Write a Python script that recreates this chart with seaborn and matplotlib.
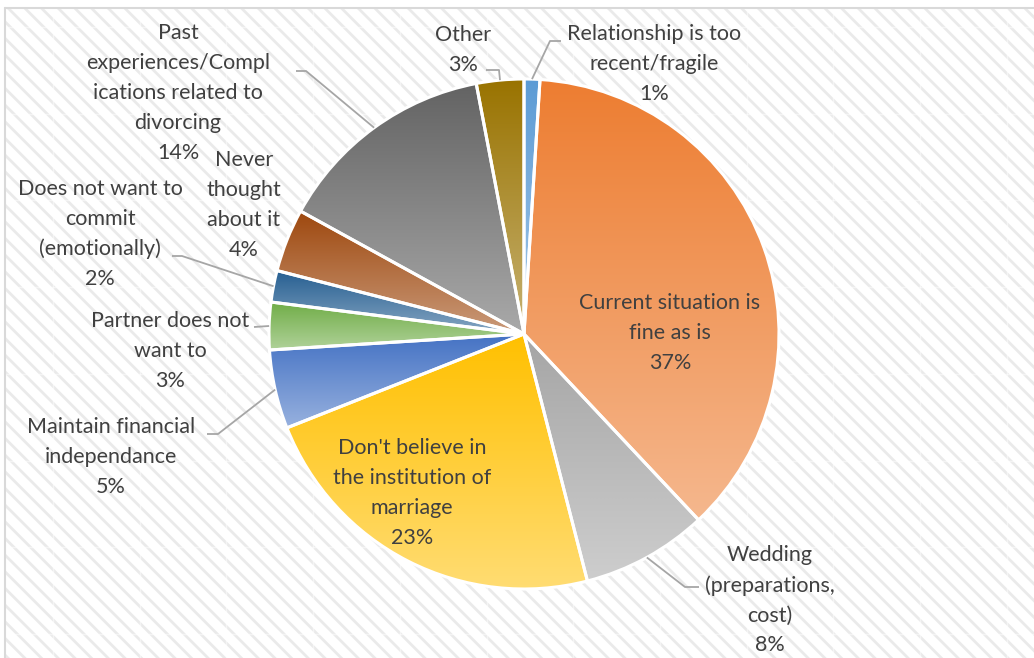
import numpy as np
import matplotlib
matplotlib.use("Agg")
import matplotlib.pyplot as plt
from matplotlib.colors import to_rgb
from matplotlib.patches import Rectangle
import seaborn as sns

# ---- data -------------------------------------------------------------
reasons = [
    "Relationship is too\nrecent/fragile",
    "Current situation is\nfine as is",
    "Wedding\n(preparations,\ncost)",
    "Don't believe in\nthe institution of\nmarriage",
    "Maintain financial\nindependance",
    "Partner does not\nwant to",
    "Does not want to\ncommit\n(emotionally)",
    "Never\nthought\nabout it",
    "Past\nexperiences/Compl\nications related to\ndivorcing",
    "Other",
]
shares = [1, 37, 8, 23, 5, 3, 2, 4, 14, 3]
slice_colors = ["#5B9BD5", "#ED7D31", "#A5A5A5", "#FFC000", "#4472C4",
                "#70AD47", "#255E91", "#9E480E", "#636363", "#997300"]

# ---- layout (pixel space, y measured from the top) ---------------------
W, H = 1034, 658
CX, CY, R = 524, 334, 255
label_pos = [(654, 64), (670, 333), (770, 600), (412, 493), (111, 457),
             (170, 351), (100, 234), (244, 205), (178, 93), (463, 50)]
# leader elbows: list of points after the wedge anchor, or None
leaders = [[(550, 41), (561, 41)], None, [(685, 587), (699, 587)], None,
           [(218, 434), (207, 434)], [(254, 327)], [(182, 256), (172, 256)],
           None, [(306, 71), (296, 71)], [(499, 70), (486, 70)]]

sns.set_theme(style="white")
plt.rcParams["font.family"] = ["Lato", "DejaVu Sans"]
plt.rcParams["hatch.linewidth"] = 2.0

palette = sns.color_palette(slice_colors)


def px(x, y):
    return x, H - y


fig = plt.figure(figsize=(W / 100, H / 100), dpi=100)
ax = fig.add_axes([0, 0, 1, 1])
ax.set_axis_off()

# striped chart-area background
ax.add_patch(Rectangle(px(5, H), W, H - 8, facecolor="white",
                       edgecolor="#EAEAEA", hatch="\\\\", linewidth=0,
                       zorder=0))
for k in range(13):
    gx = 53 + 86.7 * k
    ax.plot([gx, gx], [0, H - 8], color="white", lw=1.0, alpha=0.5, zorder=0.5)
for k in range(8):
    gy = 27 + 86.7 * k
    ax.plot([5, W], [H - gy, H - gy], color="white", lw=1.0, alpha=0.5, zorder=0.5)
ax.plot([5, W], [H - 8, H - 8], color="#D9D9D9", lw=1.5, zorder=0.6)
ax.plot([5, 5], [0, H - 8], color="#D9D9D9", lw=1.5, zorder=0.6)

wedges, _ = ax.pie(shares, colors=palette, startangle=90, counterclock=False,
                   center=px(CX, CY), radius=R,
                   wedgeprops=dict(edgecolor="white", linewidth=2.2))

# vertical gradient fill for each slice: base colour at top, lighter below
for w, col in zip(wedges, palette):
    base = np.array(to_rgb(col))
    light = base + (1 - base) * 0.45
    t = np.linspace(0, 1, 256)[:, None]
    grad = (base[None, :] * (1 - t) + light[None, :] * t)[:, None, :]
    ext = w.get_path().get_extents()
    im = ax.imshow(grad, extent=[ext.x0, ext.x1, ext.y0, ext.y1],
                   origin="upper", aspect="auto", zorder=1,
                   interpolation="bilinear")
    im.set_clip_path(w)
    w.set_facecolor("none")
    w.set_zorder(2)

# data labels with leader lines
total = sum(shares)
cum = 0
for name, v, (lx, ly), lead in zip(reasons, shares, label_pos, leaders):
    mid = (cum + v / 2) / total * 360
    cum += v
    if lead is not None:
        ax_x = CX + R * np.sin(np.radians(mid))
        ax_y = CY - R * np.cos(np.radians(mid))
        pts = [(ax_x, ax_y)] + lead
        xs = [p[0] for p in pts]
        ys = [H - p[1] for p in pts]
        ax.plot(xs, ys, color="#A6A6A6", lw=1.3, zorder=3,
                solid_capstyle="butt")
    pct = f"{round(v / total * 100)}%"
    ax.text(*px(lx, ly), f"{name}\n{pct}", ha="center", va="center",
            fontsize=15.5, color="#404040", linespacing=1.62, zorder=4)

ax.set_xlim(0, W)
ax.set_ylim(0, H)
fig.savefig("out.png", dpi=100)
